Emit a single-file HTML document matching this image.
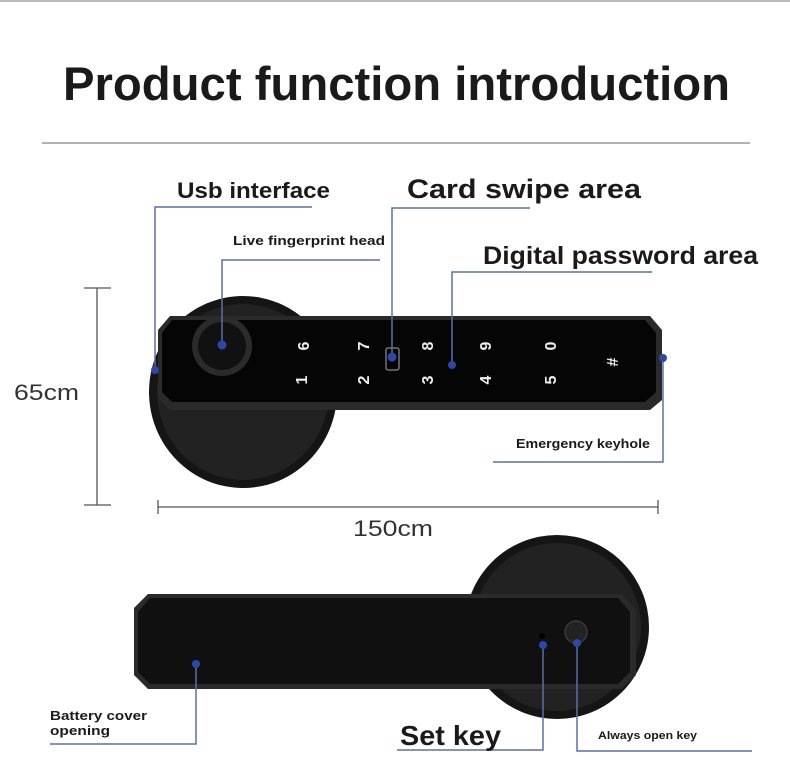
<!DOCTYPE html>
<html><head><meta charset="utf-8"><style>
html,body{margin:0;padding:0;background:#fff;}
svg{display:block;font-family:"Liberation Sans","DejaVu Sans",sans-serif;}
</style></head><body>
<svg width="790" height="783" viewBox="0 0 790 783" xmlns="http://www.w3.org/2000/svg">
<rect x="0" y="0" width="790" height="2" fill="#bbb"/>
<text x="63" y="100" font-size="47" font-weight="bold" fill="#1a1a1a" textLength="667" lengthAdjust="spacingAndGlyphs">Product function introduction</text>
<line x1="42" y1="143" x2="750" y2="143" stroke="#999" stroke-width="1.5"/>

<!-- top lock -->
<ellipse cx="243" cy="392" rx="94" ry="96" fill="#151515"/>
<ellipse cx="243" cy="392" rx="86" ry="88" fill="#222"/>
<path d="M170 316 L650 316 L662 330 L662 400 L650 410 L170 410 L158 398 L158 330 Z" fill="#2a2a2a"/>
<path d="M172 320 L645 320 L656 333 L656 392 L645 402 L172 402 L162 392 L162 333 Z" fill="#050505"/>
<circle cx="222" cy="346" r="30" fill="#2b2b2b"/>
<circle cx="222" cy="346" r="24" fill="#111"/>
<g fill="#eee" font-size="16" font-weight="bold" text-anchor="middle">
<text transform="translate(303,346) rotate(-90)" dy="6">6</text>
<text transform="translate(301,380) rotate(-90)" dy="6">1</text>
<text transform="translate(363,346) rotate(-90)" dy="6">7</text>
<text transform="translate(363,380) rotate(-90)" dy="6">2</text>
<text transform="translate(427,346) rotate(-90)" dy="6">8</text>
<text transform="translate(427,380) rotate(-90)" dy="6">3</text>
<text transform="translate(485,346) rotate(-90)" dy="6">9</text>
<text transform="translate(485,380) rotate(-90)" dy="6">4</text>
<text transform="translate(550,346) rotate(-90)" dy="6">0</text>
<text transform="translate(550,380) rotate(-90)" dy="6">5</text>
<text transform="translate(612,362) rotate(-90)" dy="6">#</text>
</g>
<rect x="386" y="348" width="13" height="22" rx="2" fill="none" stroke="#aaa" stroke-width="1"/>

<!-- callouts top -->
<g stroke="#5b6fa8" stroke-width="1.5" fill="none">
<polyline points="312,207 155,207 155,370"/>
<polyline points="380,260 222,260 222,345"/>
<polyline points="530,208 392,208 392,357"/>
<polyline points="652,272 452,272 452,365"/>
<polyline points="663,358 663,462 493,462"/>
</g>
<g fill="#2c48a8">
<circle cx="155" cy="370" r="4"/><circle cx="222" cy="345" r="4.5"/><circle cx="392" cy="357" r="4.5"/>
<circle cx="452" cy="365" r="4"/><circle cx="663" cy="358" r="4"/>
</g>
<g fill="#1a1a1a" font-weight="bold" lengthAdjust="spacingAndGlyphs">
<text x="177" y="198" font-size="22" textLength="153" lengthAdjust="spacingAndGlyphs">Usb interface</text>
<text x="233" y="245" font-size="13" textLength="152" lengthAdjust="spacingAndGlyphs">Live fingerprint head</text>
<text x="407" y="198" font-size="27" textLength="234" lengthAdjust="spacingAndGlyphs">Card swipe area</text>
<text x="483" y="264" font-size="25" textLength="275" lengthAdjust="spacingAndGlyphs">Digital password area</text>
<text x="516" y="448" font-size="13" textLength="134" lengthAdjust="spacingAndGlyphs">Emergency keyhole</text>
</g>

<!-- dimensions -->
<g stroke="#555" stroke-width="1.3">
<line x1="97" y1="288" x2="97" y2="505"/><line x1="84" y1="288" x2="111" y2="288"/><line x1="84" y1="505" x2="111" y2="505"/>
<line x1="158" y1="507" x2="658" y2="507"/><line x1="158" y1="500" x2="158" y2="514"/><line x1="658" y1="500" x2="658" y2="514"/>
</g>
<text x="14" y="400" font-size="22" fill="#333" textLength="65" lengthAdjust="spacingAndGlyphs">65cm</text>
<text x="353" y="536" font-size="22" fill="#333" textLength="80" lengthAdjust="spacingAndGlyphs">150cm</text>

<!-- bottom lock -->
<circle cx="557" cy="627" r="92" fill="#151515"/>
<circle cx="557" cy="627" r="84" fill="#222"/>
<path d="M148 594 L622 594 L636 610 L636 675 L622 689 L148 689 L134 675 L134 608 Z" fill="#2a2a2a"/>
<path d="M150 598 L618 598 L630 612 L630 672 L618 684 L150 684 L138 672 L138 612 Z" fill="#101010"/>
<circle cx="542" cy="636" r="3" fill="#000"/>
<circle cx="576" cy="632" r="11" fill="#222" stroke="#3a3a3a" stroke-width="1.5"/>
<g stroke="#5b6fa8" stroke-width="1.5" fill="none">
<polyline points="196,664 196,744 50,744"/>
<polyline points="543,645 543,750 397,750"/>
<polyline points="577,643 577,751 752,751"/>
</g>
<g fill="#2c48a8"><circle cx="196" cy="664" r="4"/><circle cx="543" cy="645" r="4"/><circle cx="577" cy="643" r="4"/></g>
<g fill="#1a1a1a" font-weight="bold">
<text x="50" y="720" font-size="13" textLength="97" lengthAdjust="spacingAndGlyphs">Battery cover</text>
<text x="50" y="735" font-size="13" textLength="60" lengthAdjust="spacingAndGlyphs">opening</text>
<text x="400" y="745" font-size="28" textLength="101" lengthAdjust="spacingAndGlyphs">Set key</text>
<text x="598" y="739" font-size="11" textLength="99" lengthAdjust="spacingAndGlyphs">Always open key</text>
</g>
</svg>
</body></html>
